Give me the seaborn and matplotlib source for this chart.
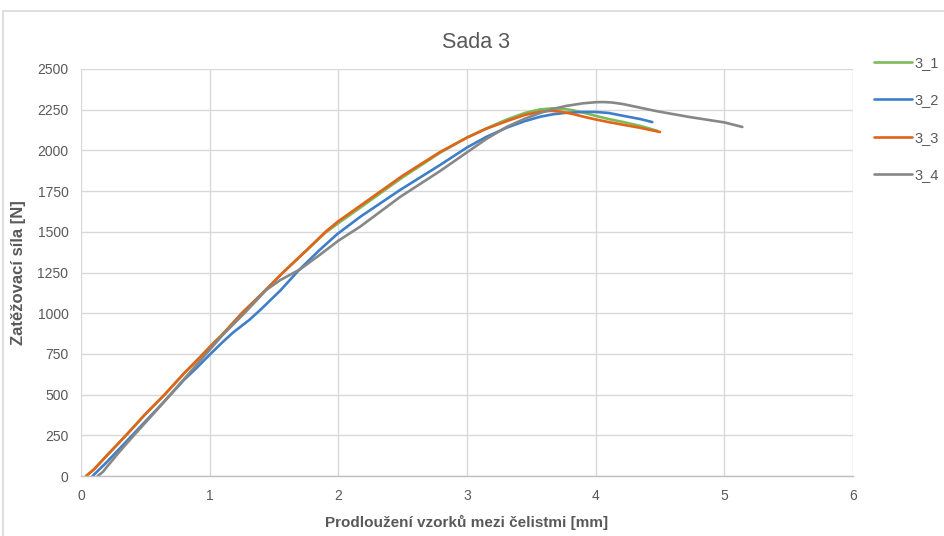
import matplotlib
matplotlib.use("Agg")
import matplotlib.pyplot as plt
from matplotlib.patches import Rectangle
import pandas as pd
import seaborn as sns

# Tensile test, set 3: elongation between grips [mm] vs. load [N]
x_3_1 = [0.04, 0.10, 0.20, 0.35, 0.50, 0.65, 0.80, 0.95, 1.00, 1.10, 1.25, 1.40, 1.57, 1.75, 1.90,
         2.00, 2.17, 2.50, 2.79, 3.00, 3.15, 3.31, 3.45, 3.57, 3.66, 3.75, 3.82, 3.90, 4.00, 4.10,
         4.21, 4.35, 4.48]
y_3_1 = [0, 40, 125, 250, 380, 500, 630, 750, 792, 870, 1000, 1115, 1250, 1383, 1495,
         1553, 1648, 1835, 1985, 2080, 2135, 2190, 2230, 2252, 2258, 2255, 2247, 2233, 2212, 2193,
         2175, 2150, 2120]

x_3_2 = [0.09, 0.20, 0.35, 0.50, 0.65, 0.80, 0.90, 1.00, 1.10, 1.18, 1.31, 1.40, 1.55, 1.69,
         1.85, 1.99, 2.17, 2.48, 2.79, 3.00, 3.15, 3.31, 3.45, 3.57, 3.67, 3.77, 3.90, 4.00, 4.10,
         4.21, 4.35, 4.44]
y_3_2 = [0, 85, 210, 335, 460, 590, 665, 745, 822, 880, 960, 1025, 1140, 1262,
         1385, 1485, 1592, 1757, 1910, 2018, 2083, 2140, 2180, 2207, 2222, 2231, 2236, 2236, 2230,
         2213, 2192, 2174]

x_3_3 = [0.04, 0.10, 0.20, 0.35, 0.50, 0.65, 0.80, 0.95, 1.00, 1.10, 1.25, 1.40, 1.57, 1.75, 1.90,
         2.00, 2.17, 2.50, 2.79, 3.00, 3.15, 3.31, 3.45, 3.57, 3.65, 3.72, 3.82, 3.90, 4.00, 4.10,
         4.21, 4.35, 4.50]
y_3_3 = [0, 40, 125, 250, 380, 500, 630, 750, 792, 870, 1000, 1115, 1250, 1385, 1500,
         1565, 1660, 1845, 1990, 2078, 2133, 2180, 2218, 2238, 2243, 2239, 2224, 2208, 2190, 2174,
         2158, 2138, 2113]

x_3_4 = [0.13, 0.17, 0.20, 0.30, 0.40, 0.60, 0.80, 1.00, 1.10, 1.27, 1.44, 1.55, 1.70, 1.85,
         2.00, 2.17, 2.48, 2.79, 3.00, 3.15, 3.31, 3.45, 3.57, 3.67, 3.77, 3.90, 4.00, 4.06,
         4.13, 4.21, 4.33, 4.48, 4.73, 5.00, 5.14]
y_3_4 = [0, 25, 55, 150, 240, 415, 595, 775, 865, 1000, 1143, 1204, 1268, 1355,
         1445, 1532, 1714, 1873, 1988, 2070, 2145, 2195, 2230, 2255, 2273, 2289, 2296, 2297,
         2294, 2285, 2265, 2240, 2205, 2172, 2144]

series = ["3_1", "3_2", "3_3", "3_4"]
colors = ["#7dba5a", "#3d7fc9", "#e0641a", "#878787"]

frames = []
for name, xs, ys in zip(series, [x_3_1, x_3_2, x_3_3, x_3_4], [y_3_1, y_3_2, y_3_3, y_3_4]):
    frames.append(pd.DataFrame({"x": xs, "y": ys, "sada": name}))
df = pd.concat(frames, ignore_index=True)

sns.set_theme(style="white")
plt.rcParams["font.family"] = ["Liberation Sans", "DejaVu Sans"]

fig = plt.figure(figsize=(9.45, 5.36), dpi=100)
ax = fig.add_axes([81 / 945, 1 - 476 / 536, (853 - 81) / 945, (476 - 69) / 536])

sns.lineplot(data=df, x="x", y="y", hue="sada", palette=dict(zip(series, colors)),
             sort=False, estimator=None, lw=1.9, ax=ax, legend=True)

ax.set_xlim(0, 6)
ax.set_ylim(0, 2500)
ax.set_xticks(range(0, 7))
ax.set_yticks(range(0, 2501, 250))
ax.grid(True, color="#d9d9d9", lw=1.0)
ax.set_axisbelow(True)
for s in ["top", "right", "left"]:
    ax.spines[s].set_visible(False)
ax.spines["bottom"].set_color("#bfbfbf")
ax.spines["bottom"].set_linewidth(1.0)
ax.tick_params(axis="both", length=0, labelsize=10, colors="#595959", pad=9)

ax.set_xlabel("Prodloužení vzorků mezi čelistmi [mm]", fontsize=11, fontweight="bold",
              color="#595959", labelpad=9)
ax.set_ylabel("Zatěžovací síla [N]", fontsize=12, fontweight="bold", color="#595959",
              labelpad=8)

fig.text(476 / 945, 1 - 42 / 536, "Sada 3", ha="center", va="center", fontsize=15.5,
         color="#595959")

handles, labels = ax.get_legend_handles_labels()
ax.legend(handles, labels, loc="upper left", bbox_to_anchor=(874 / 945, 1 - 56 / 536),
          bbox_transform=fig.transFigure, frameon=False, fontsize=10.5,
          labelcolor="#595959", handlelength=2.6, handletextpad=0.2, labelspacing=1.6,
          borderpad=0, borderaxespad=0)

# outer chart frame
fig.patches.append(Rectangle((3 / 945, -0.05), 1.1, 1.05 - 11 / 536, transform=fig.transFigure,
                             fill=False, edgecolor="#d9d9d9", lw=1.2))

fig.savefig("out.png", dpi=100)
